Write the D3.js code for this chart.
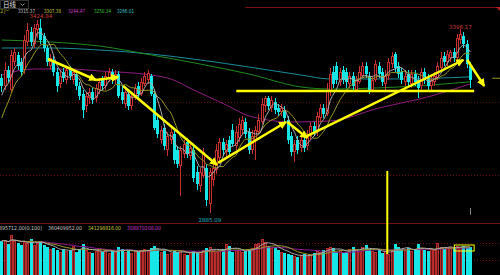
<!DOCTYPE html>
<html>
<head>
<meta charset="utf-8">
<script src="https://cdn.jsdelivr.net/npm/d3@7"></script>
<style>
  html, body { margin: 0; padding: 0; background: #000; overflow: hidden; }
  svg { display: block; }
  text { font-family: "DejaVu Sans", "Liberation Sans", sans-serif; }
</style>
</head>
<body>
<svg id="chart" width="500" height="275"></svg>
<script>
// ======================================================
//   Daily K-line (日线) with MAs, volume and drawn trend arrows
// ======================================================

// ---- candles (index 0..144), prices ----
const opens = [
  3260.7, 3238.4, 3282.9, 3227.3, 3305.2, 3324.7, 3305.2, 3282.9, 3360.9, 3388.7,
  3355.3, 3394.2, 3399.8, 3377.5, 3344.2, 3294.1, 3310.8, 3277.4, 3244.0, 3277.4,
  3255.1, 3282.9, 3255.1, 3271.8, 3238.4, 3216.2, 3182.8, 3205.1, 3221.8, 3205.1,
  3227.3, 3255.1, 3238.4, 3260.7, 3277.4, 3255.1, 3271.8, 3221.8, 3188.4, 3216.2,
  3182.8, 3205.1, 3238.4, 3216.2, 3244.0, 3255.1, 3266.3, 3216.2, 3143.9, 3088.2,
  3121.6, 3060.4, 3088.2, 3104.9, 3060.4, 3015.9, 3049.3, 3082.7, 3043.7, 3060.4,
  2999.2, 2960.2, 2988.1, 3010.3, 2910.2, 2976.9, 3004.8, 3038.1, 3082.7, 3054.8,
  3088.2, 3116.1, 3071.5, 3093.8, 3116.1, 3138.3, 3110.5, 3060.4, 3088.2, 3110.5,
  3138.3, 3182.8, 3205.1, 3177.2, 3194.0, 3177.2, 3166.1, 3171.7, 3143.9, 3099.3,
  3054.8, 3088.2, 3066.0, 3088.2, 3071.5, 3099.3, 3127.2, 3110.5, 3149.4, 3177.2,
  3160.6, 3221.8, 3277.4, 3294.1, 3249.6, 3282.9, 3277.4, 3244.0, 3266.3, 3227.3,
  3249.6, 3266.3, 3294.1, 3266.3, 3227.3, 3255.1, 3294.1, 3277.4, 3244.0, 3266.3,
  3299.6, 3327.5, 3294.1, 3277.4, 3249.6, 3271.8, 3244.0, 3271.8, 3255.1, 3238.4,
  3277.4, 3260.7, 3238.4, 3249.6, 3260.7, 3288.5, 3321.9, 3305.2, 3316.3, 3333.1,
  3316.3, 3366.4, 3377.5, 3355.3, 3294.1
];
const highs = [
  3271.8, 3305.2, 3294.1, 3338.6, 3344.2, 3333.1, 3316.3, 3380.3, 3413.7, 3402.6,
  3410.9, 3422.1, 3424.84, 3385.9, 3352.5, 3327.5, 3321.9, 3288.5, 3282.9, 3288.5,
  3294.1, 3294.1, 3282.9, 3277.4, 3249.6, 3227.3, 3221.8, 3232.9, 3232.9, 3244.0,
  3260.7, 3266.3, 3277.4, 3288.5, 3285.7, 3282.9, 3280.2, 3238.4, 3232.9, 3227.3,
  3221.8, 3244.0, 3249.6, 3260.7, 3277.4, 3282.9, 3271.8, 3227.3, 3155.0, 3127.2,
  3132.7, 3110.5, 3121.6, 3116.1, 3071.5, 3071.5, 3088.2, 3093.8, 3077.1, 3071.5,
  3015.9, 3010.3, 3066.0, 3021.5, 3010.3, 3032.6, 3077.1, 3093.8, 3093.8, 3088.2,
  3099.3, 3132.7, 3127.2, 3149.4, 3155.0, 3149.4, 3121.6, 3116.1, 3127.2, 3160.6,
  3205.1, 3210.6, 3210.6, 3210.6, 3205.1, 3188.4, 3188.4, 3182.8, 3155.0, 3110.5,
  3088.2, 3099.3, 3099.3, 3099.3, 3116.1, 3138.3, 3138.3, 3166.1, 3188.4, 3188.4,
  3246.8, 3288.5, 3294.1, 3305.2, 3288.5, 3294.1, 3288.5, 3277.4, 3277.4, 3266.3,
  3294.1, 3305.2, 3305.2, 3277.4, 3266.3, 3310.8, 3305.2, 3288.5, 3282.9, 3316.3,
  3333.1, 3333.1, 3305.2, 3288.5, 3282.9, 3282.9, 3282.9, 3282.9, 3266.3, 3288.5,
  3288.5, 3271.8, 3266.3, 3277.4, 3305.2, 3333.1, 3333.1, 3338.6, 3338.6, 3344.2,
  3383.1, 3396.17, 3388.7, 3366.4, 3305.2
];
const lows = [
  3221.8, 3227.3, 3249.6, 3219.0, 3294.1, 3282.9, 3266.3, 3271.8, 3349.7, 3349.7,
  3344.2, 3372.0, 3355.3, 3333.1, 3294.1, 3282.9, 3266.3, 3221.8, 3232.9, 3249.6,
  3244.0, 3255.1, 3244.0, 3227.3, 3199.5, 3149.4, 3166.1, 3188.4, 3188.4, 3194.0,
  3216.2, 3227.3, 3227.3, 3249.6, 3244.0, 3244.0, 3205.1, 3188.4, 3177.2, 3171.7,
  3171.7, 3199.5, 3205.1, 3210.6, 3238.4, 3244.0, 3210.6, 3116.1, 3093.8, 3077.1,
  3060.4, 3043.7, 3077.1, 3021.5, 3010.3, 2932.4, 3038.1, 3038.1, 3032.6, 2971.4,
  2949.1, 2943.6, 2982.5, 2904.6, 2885.09, 2960.2, 2993.6, 3027.0, 3043.7, 3038.1,
  3043.7, 3071.5, 3060.4, 3082.7, 3104.9, 3093.8, 3049.3, 3049.3, 3032.6, 3104.9,
  3132.7, 3166.1, 3171.7, 3166.1, 3160.6, 3155.0, 3155.0, 3138.3, 3077.1, 3043.7,
  3027.0, 3049.3, 3054.8, 3054.8, 3060.4, 3088.2, 3099.3, 3099.3, 3138.3, 3149.4,
  3155.0, 3210.6, 3232.9, 3244.0, 3238.4, 3244.0, 3232.9, 3232.9, 3227.3, 3221.8,
  3244.0, 3260.7, 3260.7, 3216.2, 3221.8, 3249.6, 3260.7, 3238.4, 3227.3, 3255.1,
  3288.5, 3277.4, 3260.7, 3244.0, 3238.4, 3238.4, 3232.9, 3238.4, 3205.1, 3227.3,
  3244.0, 3227.3, 3227.3, 3238.4, 3255.1, 3282.9, 3294.1, 3294.1, 3305.2, 3305.2,
  3310.8, 3355.3, 3344.2, 3288.5, 3232.9
];
const closes = [
  3238.4, 3282.9, 3260.7, 3324.7, 3333.1, 3294.1, 3277.4, 3366.4, 3394.2, 3360.9,
  3399.8, 3410.9, 3366.4, 3344.2, 3305.2, 3316.3, 3277.4, 3238.4, 3266.3, 3260.7,
  3282.9, 3266.3, 3277.4, 3238.4, 3210.6, 3171.7, 3210.6, 3221.8, 3199.5, 3232.9,
  3249.6, 3238.4, 3266.3, 3277.4, 3255.1, 3271.8, 3210.6, 3199.5, 3221.8, 3182.8,
  3210.6, 3232.9, 3216.2, 3249.6, 3266.3, 3274.6, 3216.2, 3121.6, 3104.9, 3116.1,
  3071.5, 3099.3, 3110.5, 3032.6, 3021.5, 3060.4, 3077.1, 3049.3, 3066.0, 2982.5,
  2965.8, 2999.2, 3054.8, 2921.3, 2999.2, 3010.3, 3060.4, 3082.7, 3060.4, 3077.1,
  3054.8, 3077.1, 3110.5, 3132.7, 3143.9, 3104.9, 3060.4, 3099.3, 3116.1, 3143.9,
  3188.4, 3205.1, 3182.8, 3199.5, 3171.7, 3166.1, 3177.2, 3149.4, 3088.2, 3054.8,
  3077.1, 3060.4, 3088.2, 3066.0, 3104.9, 3127.2, 3110.5, 3155.0, 3177.2, 3160.6,
  3227.3, 3271.8, 3244.0, 3255.1, 3277.4, 3255.1, 3249.6, 3266.3, 3238.4, 3255.1,
  3277.4, 3294.1, 3271.8, 3227.3, 3255.1, 3299.6, 3271.8, 3249.6, 3266.3, 3305.2,
  3321.9, 3288.5, 3271.8, 3255.1, 3266.3, 3249.6, 3271.8, 3249.6, 3232.9, 3277.4,
  3255.1, 3238.4, 3255.1, 3266.3, 3294.1, 3316.3, 3305.2, 3327.5, 3333.1, 3316.3,
  3372.0, 3383.1, 3355.3, 3299.6, 3255.1
];
// closes just before the visible window (only feed MA5 / MA10)
const priorCloses = [3040, 3055, 3075, 3110, 3150, 3180, 3200, 3215, 3230];

// volume, millions of shares
const volumes = [
  441, 455, 403, 520, 442, 416, 390, 429, 416, 468,
  390, 416, 442, 390, 364, 338, 351, 325, 299, 338,
  312, 325, 377, 299, 338, 403, 325, 299, 286, 312,
  338, 299, 325, 286, 312, 299, 364, 338, 299, 325,
  286, 312, 299, 325, 338, 312, 351, 377, 338, 299,
  312, 273, 286, 312, 299, 325, 273, 260, 299, 312,
  286, 299, 325, 351, 364, 325, 299, 312, 338, 403,
  377, 299, 325, 325, 299, 312, 338, 351, 403, 416,
  468, 429, 377, 351, 364, 325, 299, 286, 273, 260,
  247, 234, 260, 273, 247, 260, 286, 312, 299, 325,
  351, 364, 351, 299, 325, 286, 299, 338, 364, 325,
  312, 364, 390, 338, 312, 299, 325, 286, 312, 273,
  325, 403, 364, 338, 325, 351, 312, 325, 403, 351,
  325, 312, 338, 325, 416, 364, 338, 351, 364, 351,
  377, 364, 377, 351, 360
];

// long moving averages, sampled at candle indices
const maAIdx = [0, 10, 21, 30, 46, 52, 59, 69, 76, 89, 101, 116, 132, 144];
const maAVals = [3269.0, 3285.7, 3285.7, 3280.2, 3269.0, 3257.9, 3227.3, 3185.6, 3155.0, 3138.3, 3141.1, 3177.2, 3210.6, 3244.0];
const maBIdx = [0, 15, 30, 46, 61, 76, 92, 101, 122, 144];
const maBVals = [3366.4, 3360.9, 3349.7, 3324.7, 3299.6, 3271.8, 3235.7, 3230.1, 3235.7, 3250.0];
const maCIdx = [0, 15, 30, 46, 61, 76, 92, 101, 122, 144];
const maCVals = [3344.2, 3344.2, 3338.6, 3327.5, 3310.8, 3291.3, 3269.0, 3257.9, 3258.0, 3264.0];

// header texts
const maLabels = ["3315.37", "3307.38", "3244.47", "3250.34", "3266.01"];
const volLabels = ["895712.00(0.100)", "360409952.00", "341298816.00", "308970208.00"];

// hand-drawn trend arrows: [startIndex, startPrice, endIndex, endPrice]
const arrows = [
  [14.2, 3313.6, 29.0, 3255.1],
  [29.0, 3255.1, 35.8, 3263.5],
  [37.3, 3238.4, 66.2, 3018.7],
  [66.5, 3024.2, 87.4, 3138.3],
  [87.8, 3138.3, 93.9, 3093.8],
  [93.3, 3096.6, 141.9, 3310.8],
  [143.1, 3310.8, 148.3, 3238.4]
];
const supportLine = [72.1, 145.2, 3224.5];
const gridPrices = [3193.9, 2990.9];
const gridVolumes = [416, 195];

// =============================
// SETUP
// =============================
const N = closes.length;
const svg = d3.select("#chart");
const W = 500;

const xs = d3.scaleBand().domain(d3.range(N)).range([0, 472]).paddingInner(0.12).paddingOuter(0.1);
const cx = i => xs(0) + xs.bandwidth() / 2 + i * xs.step();
const y = d3.scaleLinear().domain([2857, 3450]).range([223, 10]);
const yv = d3.scaleLinear().domain([0, 520]).range([275, 235]);

const UP = "#c83030", DOWN = "#16e6e6";
const isUp = i => closes[i] >= opens[i];

svg.append("rect").attr("width", W).attr("height", 275).attr("fill", "#000");

svg.append("defs").append("clipPath").attr("id", "pclip")
  .append("rect").attr("x", 0).attr("y", 10).attr("width", W).attr("height", 213);

// grid lines
svg.selectAll("line.pgrid").data(gridPrices).join("line")
  .attr("x1", 0).attr("x2", W)
  .attr("y1", d => Math.round(y(d)) + 0.5).attr("y2", d => Math.round(y(d)) + 0.5)
  .attr("stroke", "#6a1010").attr("stroke-dasharray", "1,2");
svg.selectAll("line.vgrid").data(gridVolumes).join("line")
  .attr("x1", 0).attr("x2", W)
  .attr("y1", d => Math.round(yv(d)) + 0.5).attr("y2", d => Math.round(yv(d)) + 0.5)
  .attr("stroke", "#6a1010").attr("stroke-dasharray", "1,2");

// panel separator + top line
svg.append("line").attr("x1", 0).attr("x2", W)
  .attr("y1", Math.round(y(2857)) + 0.5).attr("y2", Math.round(y(2857)) + 0.5)
  .attr("stroke", "#701010");
svg.append("line").attr("x1", cx(74.8)).attr("x2", W)
  .attr("y1", Math.round(y(3458)) + 0.5).attr("y2", Math.round(y(3458)) + 0.5)
  .attr("stroke", "#7a1212");
svg.append("path")
  .attr("d", `M${W - 4},${Math.round(y(3458))} L${W},${Math.round(y(3458))} L${W},${Math.round(y(3458)) + 4} Z`)
  .attr("fill", "#c02020");

const price = svg.append("g").attr("clip-path", "url(#pclip)");

// =============================
// LONG MAs
// =============================
const sparseLine = (idx, vals, color) => {
  const pts = idx.map((d, k) => [cx(d), y(vals[k])]);
  price.append("path")
    .attr("d", d3.line().curve(d3.curveMonotoneX)(pts))
    .attr("fill", "none").attr("stroke", color).attr("stroke-width", 1);
};
sparseLine(maCIdx, maCVals, "#178c98");
sparseLine(maBIdx, maBVals, "#1f8a1f");
sparseLine(maAIdx, maAVals, "#8e1c80");

// =============================
// CANDLES
// =============================
const cg = price.append("g").attr("shape-rendering", "crispEdges");
d3.range(N).forEach(i => {
  const x0 = Math.round(xs(i));
  const xm = x0 + 1.5;
  const top = y(Math.max(opens[i], closes[i]));
  const bot = y(Math.min(opens[i], closes[i]));
  const col = isUp(i) ? UP : DOWN;
  cg.append("line").attr("x1", xm).attr("x2", xm)
    .attr("y1", y(highs[i])).attr("y2", top).attr("stroke", col);
  cg.append("line").attr("x1", xm).attr("x2", xm)
    .attr("y1", bot).attr("y2", y(lows[i])).attr("stroke", col);
  if (isUp(i)) {
    cg.append("rect").attr("x", x0 + 0.5).attr("y", top + 0.5)
      .attr("width", 2).attr("height", Math.max(1, bot - top - 1))
      .attr("fill", "#000").attr("stroke", col);
  } else {
    cg.append("rect").attr("x", x0).attr("y", top)
      .attr("width", 3).attr("height", Math.max(1, bot - top))
      .attr("fill", col);
  }
});

// =============================
// MA5 / MA10 from closes
// =============================
const allCloses = priorCloses.concat(closes);
const P = priorCloses.length;
const rolling = (arr, n, off) => d3.range(N).map(i => {
  const end = i + off + 1;
  const start = Math.max(0, end - n);
  return d3.mean(arr.slice(start, end));
});
const ma5 = rolling(allCloses, 5, P);
const ma10 = rolling(allCloses, 10, P);
const lineP = d3.line().x((d, i) => cx(i)).y(d => y(d)).curve(d3.curveMonotoneX);
price.append("path").attr("d", lineP(ma10)).attr("fill", "none").attr("stroke", "#9a9a22").attr("stroke-width", 1);
price.append("path").attr("d", lineP(ma5)).attr("fill", "none").attr("stroke", "#b0b0b0").attr("stroke-width", 1);

// =============================
// VOLUME
// =============================
const vg = svg.append("g").attr("shape-rendering", "crispEdges");
d3.range(N).forEach(i => {
  const x0 = Math.round(xs(i));
  const t = Math.round(yv(volumes[i]));
  if (isUp(i)) {
    vg.append("rect").attr("x", x0 + 0.5).attr("y", t + 0.5)
      .attr("width", 2).attr("height", 275 - t)
      .attr("fill", "#601818").attr("stroke", "#b82c2c");
  } else {
    vg.append("rect").attr("x", x0).attr("y", t)
      .attr("width", 3).attr("height", 275 - t).attr("fill", DOWN);
  }
});
const lineV = d3.line().x((d, i) => cx(i)).y(d => yv(d)).curve(d3.curveMonotoneX);
const vma = n => d3.range(N).map(i => d3.mean(volumes.slice(Math.max(0, i - n + 1), i + 1)));
svg.append("path").attr("d", lineV(vma(20))).attr("fill", "none").attr("stroke", "#8e1c9a");
svg.append("path").attr("d", lineV(vma(10))).attr("fill", "none").attr("stroke", "#9a9a22");
svg.append("path").attr("d", lineV(vma(5))).attr("fill", "none").attr("stroke", "#a8a8a8");

// =============================
// ANNOTATIONS
// =============================
svg.append("defs").append("marker")
  .attr("id", "ah").attr("markerUnits", "userSpaceOnUse")
  .attr("markerWidth", 10).attr("markerHeight", 10)
  .attr("refX", 7).attr("refY", 4).attr("orient", "auto")
  .append("path").attr("d", "M0,0 L8,4 L0,8 Z").attr("fill", "#ffff00");

svg.append("line")
  .attr("x1", cx(supportLine[0])).attr("x2", cx(supportLine[1]))
  .attr("y1", y(supportLine[2])).attr("y2", y(supportLine[2]))
  .attr("stroke", "#ffff00").attr("stroke-width", 2.5);

svg.selectAll("line.arrow").data(arrows).join("line")
  .attr("x1", d => cx(d[0])).attr("y1", d => y(d[1]))
  .attr("x2", d => cx(d[2])).attr("y2", d => y(d[3]))
  .attr("stroke", "#ffff00").attr("stroke-width", 2.5)
  .attr("marker-end", "url(#ah)");

// vertical marker line
svg.append("line")
  .attr("x1", cx(118.5)).attr("x2", cx(118.5))
  .attr("y1", y(3002)).attr("y2", yv(273))
  .attr("stroke", "#ffff00").attr("stroke-width", 2);

// box around last volumes
svg.append("rect")
  .attr("x", cx(139.1)).attr("y", yv(390))
  .attr("width", cx(145.2) - cx(139.1)).attr("height", yv(312) - yv(390))
  .attr("fill", "none").attr("stroke", "#ffff00").attr("stroke-width", 1);

// small marks at the right
svg.append("line").attr("x1", cx(150.8)).attr("x2", cx(153.3))
  .attr("y1", y(3260)).attr("y2", y(3260)).attr("stroke", "#9a9a22");
svg.append("line").attr("x1", Math.round(cx(143.8)) + 0.5).attr("x2", Math.round(cx(143.8)) + 0.5)
  .attr("y1", y(2899)).attr("y2", y(2880)).attr("stroke", "#888");

// high / low labels
const iHigh = d3.maxIndex(highs), iLow = d3.minIndex(lows);
svg.append("text").attr("x", cx(iHigh)).attr("y", y(highs[iHigh]) - 1)
  .attr("text-anchor", "middle").attr("font-size", 5.5).attr("fill", "#d03a3a")
  .text(highs[iHigh].toFixed(2));
svg.append("text").attr("x", cx(141)).attr("y", y(highs[141]))
  .attr("text-anchor", "middle").attr("font-size", 5.5).attr("fill", "#d03a3a")
  .text(highs[141].toFixed(2));
svg.append("text").attr("x", cx(iLow)).attr("y", y(lows[iLow]) + 9.5)
  .attr("text-anchor", "middle").attr("font-size", 5.5).attr("fill", "#22b4c0")
  .text(lows[iLow].toFixed(2));

// =============================
// HEADERS
// =============================
svg.append("rect").attr("x", 0.5).attr("y", 0.5).attr("width", 28).attr("height", 8)
  .attr("fill", "none").attr("stroke", "#333");
svg.append("text").attr("x", 3).attr("y", 7).attr("font-size", 6.5).attr("fill", "#e0e0e0")
  .style("font-family", "'Noto Sans CJK SC', sans-serif").text("日线");
svg.append("path").attr("d", "M20.5,3.5 L22.5,5.5 L24.5,3.5").attr("fill", "none").attr("stroke", "#ccc").attr("stroke-width", 0.7);

svg.append("text").attr("x", 0).attr("y", 12.5).attr("font-size", 5.5).attr("fill", "#a8a822").text("2)");
svg.append("path").attr("d", "M6,9.5 L7.5,11 L9,9.5").attr("fill", "none").attr("stroke", "#a8a822").attr("stroke-width", 0.7);
const maX = [18, 44, 68, 94, 117];
const maCol = ["#c8c8c8", "#c8c83a", "#c83ac8", "#3ac83a", "#3ac8c8"];
maLabels.forEach((t, k) => {
  svg.append("text").attr("x", maX[k]).attr("y", 12.5).attr("font-size", 5.5)
    .attr("fill", maCol[k]).attr("textLength", 17).attr("lengthAdjust", "spacingAndGlyphs").text(t);
});

const vX = [-1, 48, 88, 127];
const vW = [43, 34, 33, 34];
const vCol = ["#c8c8c8", "#c8c8c8", "#c8c83a", "#c83ac8"];
volLabels.forEach((t, k) => {
  svg.append("text").attr("x", vX[k]).attr("y", 230).attr("font-size", 5.5)
    .attr("fill", vCol[k]).attr("textLength", vW[k]).attr("lengthAdjust", "spacingAndGlyphs").text(t);
});
</script>
</body>
</html>
